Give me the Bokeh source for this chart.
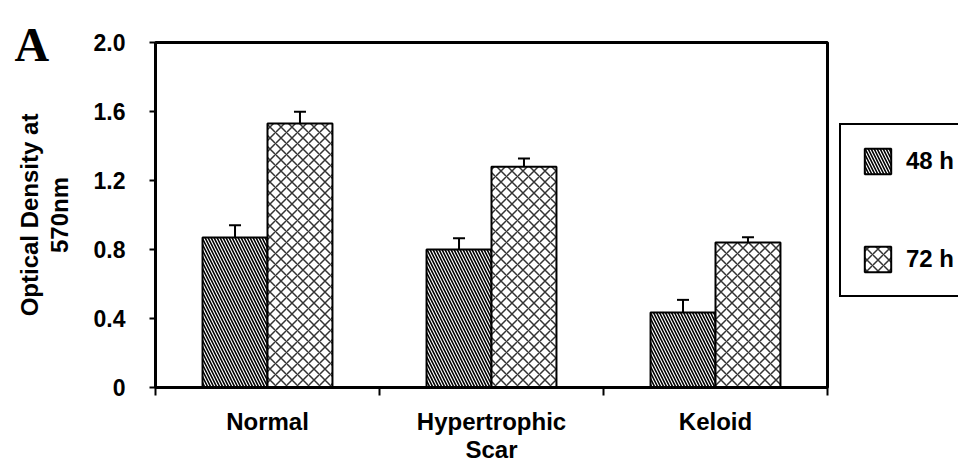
from bokeh.plotting import figure
from bokeh.models import (ColumnDataSource, FixedTicker, Whisker, TeeHead, Legend,
                          LegendItem, Label, NumeralTickFormatter, BoxAnnotation, Range1d)
from bokeh.transform import dodge
from bokeh.embed import file_html
from bokeh.resources import INLINE

# ---- data ----
categories = ["Normal", "Hypertrophic\nScar", "Keloid"]
series_names = ["48 h", "72 h"]
od_48h = [0.87, 0.80, 0.435]
err_48h = [0.07, 0.065, 0.073]
od_72h = [1.53, 1.28, 0.84]
err_72h = [0.068, 0.047, 0.031]
y_ticks = [0, 0.4, 0.8, 1.2, 1.6, 2.0]
y_max = 2.0

FONT = "Liberation Sans"
BAR_W = 0.29
OFF = 0.145
W, H = 958, 474

centers = [i + 0.5 for i in range(len(categories))]
bounds = [i for i in range(len(categories) + 1)]
n = len(categories)

src = ColumnDataSource(dict(
    x=centers,
    v48=od_48h, u48=[v + e for v, e in zip(od_48h, err_48h)],
    v72=od_72h, u72=[v + e for v, e in zip(od_72h, err_72h)],
))

# frame covers the whole canvas; axes are pinned at the data origin
x_px = 224.0   # pixels per category
y_px = 172.5   # pixels per unit
x_left, y_bottom = 155, 387
p = figure(width=W, height=H,
           x_range=Range1d(-x_left / x_px, n + (W - x_left - n * x_px) / x_px),
           y_range=Range1d(-(H - y_bottom) / y_px, y_max + (y_bottom - y_max * y_px) / y_px),
           output_backend="svg", toolbar_location=None,
           min_border=0, min_border_left=0, min_border_right=0,
           min_border_top=0, min_border_bottom=0)
p.background_fill_color = "white"
p.border_fill_color = "white"
p.outline_line_color = None
p.xgrid.visible = False
p.ygrid.visible = False

r48 = p.vbar(x=dodge("x", -OFF), top="v48", width=BAR_W, source=src,
             fill_color="white", line_color="black", line_width=2,
             hatch_pattern="\\", hatch_color="black", hatch_scale=6, hatch_weight=1.6)
r72 = p.vbar(x=dodge("x", OFF), top="v72", width=BAR_W, source=src,
             fill_color="white", line_color="black", line_width=2,
             hatch_pattern="x", hatch_color="#333333", hatch_scale=11, hatch_weight=1.5)

for base, lo, hi in [(dodge("x", -OFF), "v48", "u48"), (dodge("x", OFF), "v72", "u72")]:
    w = Whisker(source=src, base=base, lower=lo, upper=hi, line_color="black", line_width=2,
                lower_head=None,
                upper_head=TeeHead(size=12, line_width=2, line_color="black"))
    p.add_layout(w)

# plot-area border (top and right sides)
p.add_layout(BoxAnnotation(left=0, right=n, bottom=0, top=y_max, fill_alpha=0,
                           line_color="black", line_alpha=1.0, line_width=3))

# y axis
ya = p.yaxis[0]
ya.fixed_location = 0
ya.bounds = (0, y_max)
ya.ticker = FixedTicker(ticks=y_ticks, minor_ticks=[])
ya.formatter = NumeralTickFormatter(format="0.0")
ya.major_label_overrides = {0: "0"}
ya.axis_line_width = 3
ya.major_tick_line_width = 2
ya.major_tick_out = 6
ya.major_tick_in = 0
ya.major_label_standoff = 24
ya.major_label_text_font = FONT
ya.major_label_text_font_style = "bold"
ya.major_label_text_font_size = "23px"
ya.major_label_text_color = "black"
ya.axis_label = "Optical Density at\n570nm"
ya.axis_label_text_font = FONT
ya.axis_label_text_font_style = "bold"
ya.axis_label_text_font_size = "24px"
ya.axis_label_text_color = "black"
ya.axis_label_text_line_height = 1.1
ya.axis_label_standoff = 18

# x axis
xa = p.xaxis[0]
xa.fixed_location = 0
xa.bounds = (0, n)
xa.ticker = FixedTicker(ticks=centers, minor_ticks=bounds)
xa.major_label_overrides = dict(zip(centers, categories))
xa.axis_line_width = 3
xa.major_tick_out = 0
xa.major_tick_in = 0
xa.minor_tick_out = 8
xa.minor_tick_in = 0
xa.minor_tick_line_width = 2
xa.minor_tick_line_color = "black"
xa.major_label_standoff = 12
xa.major_label_text_font = FONT
xa.major_label_text_font_style = "bold"
xa.major_label_text_font_size = "24px"
xa.major_label_text_line_height = 1.05
xa.major_label_text_color = "black"

legend = Legend(items=[LegendItem(label=series_names[0], renderers=[r48]),
                       LegendItem(label=series_names[1], renderers=[r72])],
                location=(839, 177), orientation="vertical",
                glyph_width=33, glyph_height=32, spacing=66, padding=20,
                label_standoff=12, label_text_font=FONT, label_text_font_style="bold",
                label_text_font_size="24px", label_text_color="black", label_height=32,
                border_line_color="black", border_line_alpha=1.0, border_line_width=2,
                background_fill_color="white", background_fill_alpha=1.0)
p.add_layout(legend, "center")

p.add_layout(Label(x=-0.629, y=1.988, text="A", text_font="Liberation Serif",
                   text_font_style="bold", text_font_size="48px", text_color="black",
                   text_align="left", text_baseline="alphabetic"))

open("out.html", "w").write(file_html(p, INLINE))
